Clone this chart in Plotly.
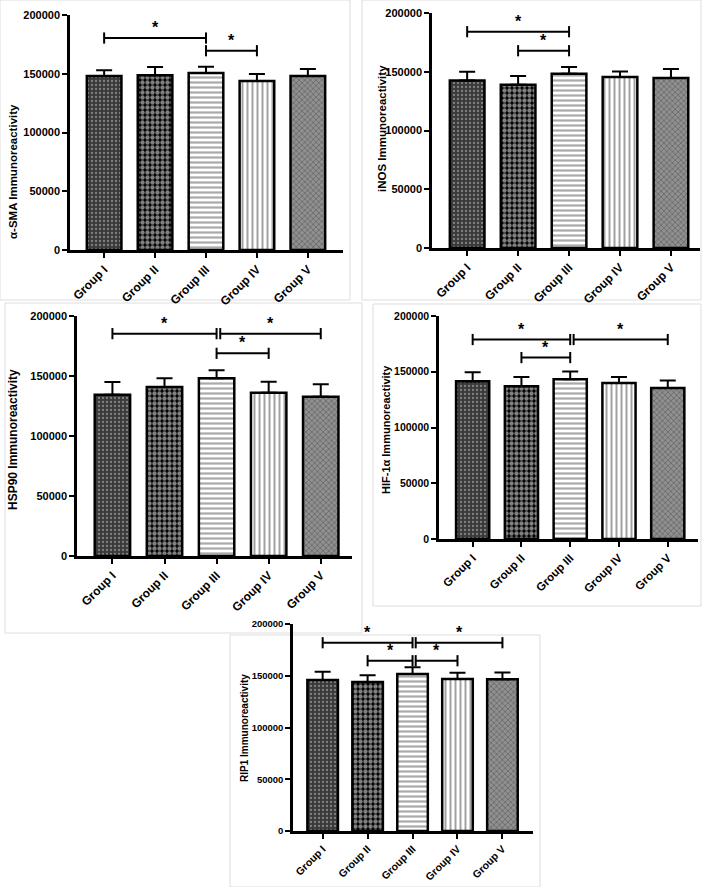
import plotly.graph_objects as go

# ---------------- data ----------------
groups = ["Group I", "Group II", "Group III", "Group IV", "Group V"]

sma_mean = [148000, 148700, 150600, 143800, 148000]
sma_err = [5000, 7000, 5400, 6000, 6000]
sma_sig = [(0, 2, 180400), (2, 3, 169600)]

inos_mean = [142600, 139000, 148300, 145500, 144700]
inos_err = [7400, 7400, 5700, 4800, 7600]
inos_sig = [(0, 2, 184100), (1, 2, 167900)]

hsp_mean = [134400, 140800, 148100, 136100, 132800]
hsp_err = [10600, 7300, 6600, 9200, 10300]
hsp_sig = [(0, 2, 185300), (2, 4, 185300), (2, 3, 168900)]

hif_mean = [141500, 137000, 143300, 140000, 135500]
hif_err = [8100, 8400, 6900, 5400, 6600]
hif_sig = [(0, 2, 178900), (2, 4, 178900), (1, 2, 162700)]

rip_mean = [145800, 143900, 151600, 146800, 146500]
rip_err = [8100, 6500, 6500, 6100, 6700]
rip_sig = [(0, 2, 181900), (2, 4, 181900), (1, 2, 164500), (2, 3, 164500)]

y_ticks = [0, 50000, 100000, 150000, 200000]

# ---------------- styling ----------------
W, H = 702, 887
FONT = "Liberation Sans"

pat_shape = [".", ".", "-", "|", "x"]
pat_fg = ["#c8c8c8", "#ffffff", "#555555", "#444444", "#3a3a3a"]
pat_bg = ["#3a3a3a", "#000000", "#ffffff", "#ffffff", "#909090"]
pat_size = [4, 5, 5, 5, 4]
pat_sol = [0.25, 0.6, 0.45, 0.4, 0.35]

panels = [
    dict(title="α-SMA Immunoreactivity", mean=sma_mean, err=sma_err, sig=sma_sig,
         px0=70, px1=343, py0=250, py1=15, xr=(-0.67, 4.69), tx=13, ty=172, tfs=11.5, fs=11, xfs=12),
    dict(title="iNOS Immunoreactivity", mean=inos_mean, err=inos_err, sig=inos_sig,
         px0=432, px1=700, py0=248, py1=13, xr=(-0.69, 4.57), tx=382, ty=129, tfs=11.5, fs=11, xfs=12),
    dict(title="HSP90 Immunoreactivity", mean=hsp_mean, err=hsp_err, sig=hsp_sig,
         px0=77, px1=352, py0=556, py1=316, xr=(-0.68, 4.6), tx=13, ty=440, tfs=12, fs=11, xfs=12),
    dict(title="HIF-1α Immunoreactivity", mean=hif_mean, err=hif_err, sig=hif_sig,
         px0=439, px1=698, py0=539, py1=316, xr=(-0.69, 4.62), tx=386, ty=430, tfs=11, fs=10.5, xfs=11.5),
    dict(title="RIP1 Immunoreactivity", mean=rip_mean, err=rip_err, sig=rip_sig,
         px0=293, px1=533, py0=831, py1=624, xr=(-0.66, 4.68), tx=244, ty=728, tfs=10, fs=9.5, xfs=10.5),
]

frames = [(0, 0, 350, 300), (362, 0, 701, 300), (5, 303, 362, 633),
          (373, 304, 701, 606), (230, 635, 540, 887)]

fig = go.Figure()
annotations = []
shapes = []

for i, p in enumerate(panels):
    n = "" if i == 0 else str(i + 1)
    xa, ya = "x" + n, "y" + n
    xpos = list(range(len(groups)))
    for j in xpos:
        fig.add_trace(go.Bar(
            x=[j], y=[p["mean"][j]], xaxis=xa, yaxis=ya, width=0.68,
            marker=dict(color=pat_bg[j], line=dict(color="black", width=2.5),
                        pattern=dict(shape=pat_shape[j], fgcolor=pat_fg[j],
                                     size=pat_size[j], solidity=pat_sol[j],
                                     fillmode="overlay")),
            error_y=dict(type="data", symmetric=False, array=[p["err"][j]],
                         arrayminus=[0], thickness=2, width=8, color="black"),
            showlegend=False, hoverinfo="skip"))
    # significance brackets
    for (a, b, h) in p["sig"]:
        xa0 = a
        if any(s[1] == a and s[2] == h for s in p["sig"]):
            xa0 = a + 0.07
        fig.add_trace(go.Scatter(
            x=[xa0, b], y=[h, h], xaxis=xa, yaxis=ya, mode="lines+markers",
            line=dict(color="black", width=2),
            marker=dict(symbol="line-ns", size=8, line=dict(width=2, color="black")),
            showlegend=False, hoverinfo="skip"))
        annotations.append(dict(x=(xa0 + b) / 2, y=h, xref=xa, yref=ya, text="<b>*</b>",
                                showarrow=False, yanchor="bottom", yshift=0,
                                font=dict(family=FONT, size=16, color="black")))
    xdom = [p["px0"] / W, p["px1"] / W]
    ydom = [1 - p["py0"] / H, 1 - p["py1"] / H]
    tf = dict(family=FONT, size=p["fs"], color="black", weight="bold")
    xf = dict(family=FONT, size=p["xfs"], color="black", weight="bold")
    fig.update_layout(**{
        ("xaxis" + n): dict(domain=xdom, anchor=ya, range=list(p["xr"]), tickmode="array",
                            tickvals=xpos, ticktext=groups, tickangle=-45, ticks="outside",
                            ticklen=5, tickwidth=2, tickcolor="black", showline=True,
                            linewidth=2.5, linecolor="black", showgrid=False, zeroline=False,
                            tickfont=xf, automargin=False, fixedrange=True),
        ("yaxis" + n): dict(domain=ydom, anchor=xa, range=[0, 200000], tickmode="array",
                            tickvals=y_ticks, ticktext=[str(v) for v in y_ticks],
                            ticks="outside", ticklen=5, tickwidth=2, tickcolor="black",
                            showline=True, linewidth=2.5, linecolor="black", showgrid=False,
                            zeroline=False, tickfont=tf, automargin=False, fixedrange=True),
    })
    annotations.append(dict(x=p["tx"] / W, y=1 - p["ty"] / H, xref="paper", yref="paper",
                            text="<b>" + p["title"] + "</b>", textangle=-90, showarrow=False,
                            xanchor="center", yanchor="middle",
                            font=dict(family=FONT, size=p["tfs"], color="black")))

for (x0, y0, x1, y1) in frames:
    shapes.append(dict(type="rect", xref="paper", yref="paper", x0=x0 / W, x1=x1 / W,
                       y0=1 - y0 / H, y1=1 - y1 / H, line=dict(color="#dddddd", width=1),
                       layer="below"))

fig.update_layout(width=W, height=H, margin=dict(l=0, r=0, t=0, b=0),
                  paper_bgcolor="white", plot_bgcolor="white", annotations=annotations,
                  shapes=shapes, barmode="overlay")

fig.write_html("out.html", config={"displayModeBar": False},
               post_script="document.body.style.margin='0px';"
               "document.body.style.overflow='hidden';")
